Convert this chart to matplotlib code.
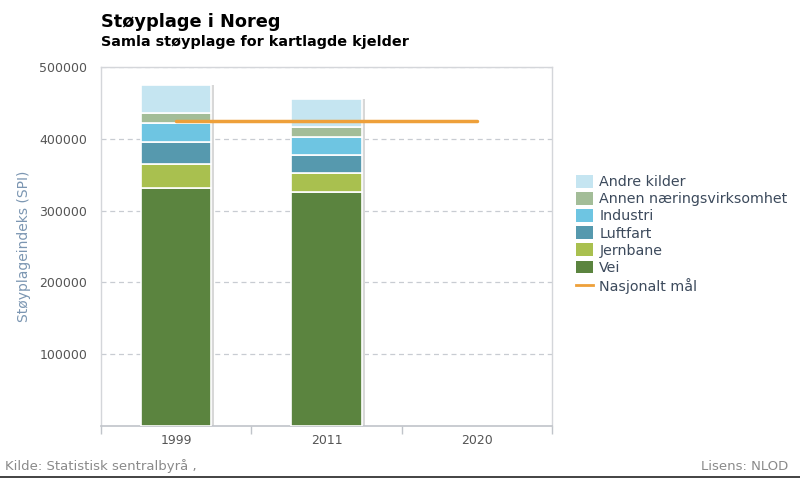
import matplotlib
matplotlib.use("Agg")
import matplotlib.pyplot as plt
from matplotlib.patches import Patch
from matplotlib.lines import Line2D
import numpy as np

years = ["1999", "2011", "2020"]
series_names = ["Vei", "Jernbane", "Luftfart", "Industri", "Annen næringsvirksomhet", "Andre kilder"]
vei = [332000, 326000, 0]
jernbane = [33000, 26000, 0]
luftfart = [30000, 26000, 0]
industri = [27000, 25000, 0]
annen = [14500, 13000, 0]
andre = [38000, 39000, 0]
nasjonalt_maal = [425000, 425000, 425000]

colors = ["#5b843f", "#a9c04f", "#5699ae", "#6ec5e2", "#a3bd98", "#c5e5f1"]
orange = "#eea03a"

plt.rcParams['font.family'] = ['DejaVu Sans']
fig = plt.figure(figsize=(8, 4.78), dpi=100)
ax = fig.add_axes([101/800, 1-426/478, (552-101)/800, (426-67)/478])

x = np.arange(len(years))
width = 0.47
data = [vei, jernbane, luftfart, industri, annen, andre]
totals = np.sum(np.array(data), axis=0)
# shadow
for i in range(len(years)):
    if totals[i] > 0:
        ax.bar(x[i] + 0.018, totals[i], width=width, color="#d8d8d8", zorder=2, linewidth=0)
bottom = np.zeros(len(years))
for vals, c in zip(data, colors):
    v = np.array(vals, dtype=float)
    m = v > 0
    ax.bar(x[m], v[m], width=width, bottom=bottom[m], color=c, edgecolor="white", linewidth=1.2, zorder=3)
    bottom += v

ax.plot(x, nasjonalt_maal, color=orange, linewidth=2.5, zorder=4, solid_capstyle="round")

ax.set_xlim(-0.5, 2.5)
ax.set_ylim(0, 500000)
ax.set_yticks([100000, 200000, 300000, 400000, 500000])
ax.set_yticklabels(["100000", "200000", "300000", "400000", "500000"])
ax.yaxis.grid(True, linestyle=(0, (4, 3)), color="#c8ccd2", linewidth=0.9, zorder=0)
ax.set_axisbelow(True)
ax.tick_params(axis="y", length=0, labelsize=9, labelcolor="#555555", pad=10)
ax.set_xticks(x)
ax.set_xticklabels(years)
ax.tick_params(axis="x", which="major", length=0, labelsize=9, labelcolor="#555555", pad=6)
ax.set_xticks([-0.5, 0.5, 1.5, 2.5], minor=True)
ax.tick_params(axis="x", which="minor", length=6, color="#c0c4ca", width=1)
for s in ["left", "right", "top"]:
    ax.spines[s].set_color("#d4d6da")
    ax.spines[s].set_linewidth(1)
ax.spines["bottom"].set_color("#c0c4ca")
ax.spines["bottom"].set_linewidth(1.2)
ax.set_ylabel("Støyplageindeks (SPI)", color="#7b96b2", fontsize=10, labelpad=6)

fig.text(101/800, 1-22/478, "Støyplage i Noreg", fontsize=12.8, fontweight="bold", va="center", color="#000000")
fig.text(101/800, 1-42/478, "Samla støyplage for kartlagde kjelder", fontsize=10.4, fontweight="bold", va="center", color="#000000")

handles = [Patch(facecolor=c, edgecolor="none") for c in colors[::-1]]
labels = series_names[::-1]
handles.append(Line2D([0], [0], color=orange, linewidth=2))
labels.append("Nasjonalt mål")
leg = fig.legend(handles, labels, loc="upper left", bbox_to_anchor=(570/800, 1-169/478),
                 frameon=False, fontsize=10.3, handlelength=1.2, handleheight=1.0,
                 handletextpad=0.45, labelspacing=0.2, borderaxespad=0)
for t in leg.get_texts():
    t.set_color("#3c4a5c")

fig.text(5/800, 1-466/478, "Kilde: Statistisk sentralbyrå ,", fontsize=9.5, color="#8a8a8a", va="center")
fig.text(788/800, 1-466/478, "Lisens: NLOD", fontsize=9.5, color="#8a8a8a", va="center", ha="right")
fig.add_artist(Line2D([0, 1], [1/478, 1/478], color="#222222", linewidth=1.2, transform=fig.transFigure))

fig.savefig("out.png", dpi=100)
